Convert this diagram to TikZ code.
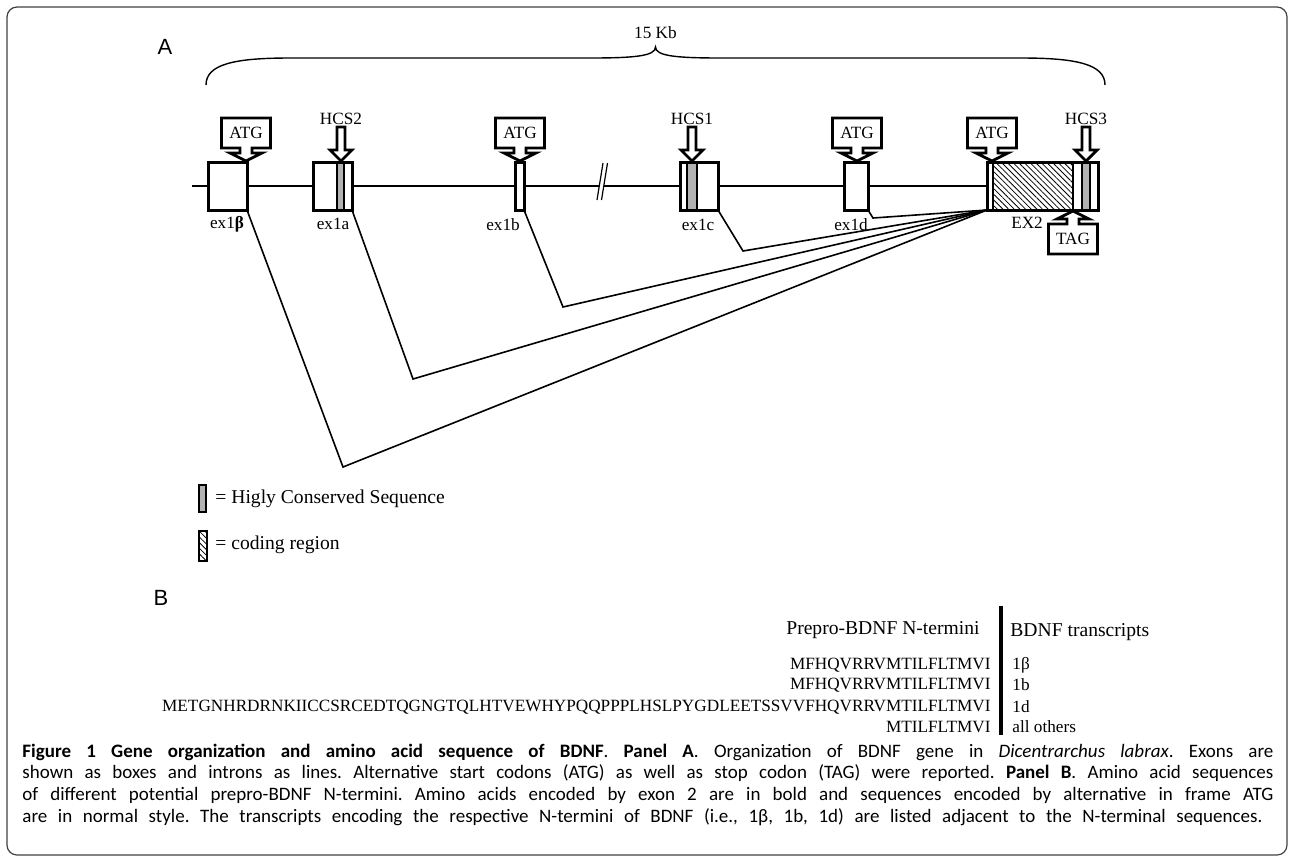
\documentclass[tikz,border=0pt]{standalone}
\usepackage{fontspec}
\setmainfont{Liberation Serif}
\newfontfamily\capfont{Carlito}
\newfontfamily\panelfont{Liberation Sans}
\usetikzlibrary{patterns.meta}
\frenchspacing

\tikzset{
  exon/.style={draw,line width=1.5pt,minimum height=24pt,inner sep=0pt,outer sep=0pt},
  hcs/.style={draw,line width=0.6pt,fill=gray!60},
  coding/.style={draw,line width=0.6pt,pattern={Lines[angle=-45,distance=2pt,line width=0.4pt]}},
  callout/.style={draw,line width=1.4pt,fill=white,line join=miter},
  codon/.style={font=\fontsize{8.6}{10}\selectfont,inner sep=0pt},
  exlabel/.style={font=\fontsize{8.6}{10}\selectfont,inner sep=0pt},
  gene/.style={line width=1pt},
  splice/.style={line width=0.8pt},
  seq/.style={font=\fontsize{8.6}{10}\selectfont,inner sep=0pt},
  head/.style={font=\fontsize{9.8}{11}\selectfont,inner sep=0pt},
  legend/.style={font=\fontsize{9.8}{11}\selectfont,inner sep=0pt,anchor=west},
  panel/.style={font=\panelfont\fontsize{11}{13}\selectfont,inner sep=0pt},
  capline/.style={font=\capfont\fontsize{9.5}{11}\selectfont,inner sep=0pt,anchor=west},
  pics/codon/.style={code={
    \draw[callout] (0,0) -- (-16,-8) -- (-6,-8) -- (-6,-13) -- (-24.5,-13) -- (-24.5,-43)
      -- (24.5,-43) -- (24.5,-13) -- (6,-13) -- (6,-8) -- (16,-8) -- cycle;
    \node[codon] (-txt) at (0,-28) {#1};
  }},
  pics/hcsarrow/.style={code={
    \draw[callout] (0,0) -- (-11,-11) -- (-4,-11) -- (-4,-34) -- (4,-34) -- (4,-11) -- (11,-11) -- cycle;
    \node[codon] (-txt) at (0,-42) {#1};
  }}
}

\begin{document}
\begin{tikzpicture}[x=0.5pt,y=-0.5pt]
\useasboundingbox (0,0) rectangle (1290,858);
\draw[line width=0.6pt,black!75,rounded corners=5pt] (7,7) rectangle (1287,855);

% panel A
\node[panel] (lblA) at (165,47) {A};
\draw[line width=0.7pt] (206,85) .. controls (206,64) and (235,58) .. (290,58) -- (590,58)
  .. controls (635,58) and (655.5,56) .. (655.5,47)
  .. controls (655.5,56) and (676,58) .. (721,58) -- (1021,58)
  .. controls (1076,58) and (1105,64) .. (1105,85);
\node[codon] (kb) at (655.5,33) {15 Kb};

% stripes inside the exons
\draw[hcs] (337,162) rectangle (344,210);
\draw[hcs] (687,162) rectangle (697,210);
\draw[coding] (993,162) rectangle (1073,210);
\draw[hcs] (1082,162) rectangle (1090,210);

% exons
\node[exon,minimum width=19.5pt] (exbeta) at (227.5,186) {};
\node[exon,minimum width=19.5pt] (exa) at (332.5,186) {};
\node[exon,minimum width=4.5pt] (exb) at (519.5,186) {};
\node[exon,minimum width=19pt] (exc) at (699,186) {};
\node[exon,minimum width=12pt] (exd) at (856,186) {};
\node[exon,minimum width=55.5pt] (ex2) at (1042.5,186) {};

% introns
\coordinate (start) at (192,186);
\coordinate (brkL) at (599,186);
\coordinate (brkR) at (604,186);
\draw[gene] (start) -- (exbeta.west) (exbeta.east) -- (exa.west) (exa.east) -- (exb.west);
\draw[gene,line width=0.6pt] (exb.east) -- (brkL);
\draw[line width=0.6pt] (597,200) -- (603,163) (601.5,200) -- (607.5,163);
\draw[gene] (brkR) -- (exc.west) (exc.east) -- (exd.west);
\draw[gene,line width=0.6pt] (exd.east) -- (ex2.west);

\node[exlabel] (lbeta) at (227,224) {ex1\textbf{β}};
\node[exlabel] (la) at (333,224) {ex1a};
\node[exlabel] (lb) at (503,225) {ex1b};
\node[exlabel] (lc) at (698,225) {ex1c};
\node[exlabel] (ld) at (851,225) {ex1d};
\node[exlabel] (l2) at (1027,223) {EX2};

% start / stop codons and conserved sequences
\foreach \tx [count=\i] in {246,520,857,992}
  \pic (atg\i) at (\tx,161) {codon=ATG};
\pic[yscale=-1] (tag) at (1073,211) {codon=TAG};
\pic (hcs2) at (341,161) {hcsarrow=HCS2};
\pic (hcs1) at (692,161) {hcsarrow=HCS1};
\pic (hcs3) at (1086,161) {hcsarrow=HCS3};

% splicing
\coordinate (vbeta) at (343,467);
\coordinate (va) at (413,379);
\coordinate (vb) at (563,307);
\coordinate (vc) at (743,251);
\coordinate (vd) at (873,218);
\foreach \ex/\vx in {exbeta/vbeta,exa/va,exb/vb,exc/vc,exd/vd}
  \draw[splice] (\ex.south east) -- (\vx) -- (ex2.south west);

% legend
\draw[hcs] (199,485) rectangle (206,512);
\node[legend] (hcskey) at (215,499) {= Higly Conserved Sequence};
\draw[coding] (199,531) rectangle (207,561);
\node[legend] (codkey) at (215,545) {= coding region};

% panel B
\node[panel] (lblB) at (161,598) {B};
\draw[line width=2pt] (1001,606) -- (1001,735);
\node[head,anchor=east] (nterm) at (980,630) {Prepro-BDNF N-termini};
\node[head,anchor=west] (trans) at (1010,632) {BDNF transcripts};
\foreach \sq/\tr/\y [count=\i] in {MFHQVRRVMTILFLTMVI/1β/665,
    MFHQVRRVMTILFLTMVI/1b/685,
    METGNHRDRNKIICCSRCEDTQGNGTQLHTVEWHYPQQPPPLHSLPYGDLEETSSVVFHQVRRVMTILFLTMVI/1d/707,
    MTILFLTMVI/all others/727}{
  \node[seq,anchor=east] (seq\i) at (991,\y) {\sq};
  \node[seq,anchor=west] (tr\i) at (1012,\y) {\tr};
}

% caption
\node[capline] (cap1) at (22,752) {\makebox[625.5pt][s]{\textbf{Figure 1 Gene organization and amino acid sequence of BDNF}. \textbf{Panel A}. Organization of BDNF gene in \textit{Dicentrarchus labrax}. Exons are}};
\node[capline] (cap2) at (22,773) {\makebox[625.5pt][s]{shown as boxes and introns as lines. Alternative start codons (ATG) as well as stop codon (TAG) were reported. \textbf{Panel B}. Amino acid sequences}};
\node[capline] (cap3) at (22,795) {\makebox[625.5pt][s]{of different potential prepro-BDNF N-termini. Amino acids encoded by exon 2 are in bold and sequences encoded by alternative in frame ATG}};
\node[capline] (cap4) at (22,817) {\makebox[620pt][s]{are in normal style. The transcripts encoding the respective N-termini of BDNF (i.e., 1β, 1b, 1d) are listed adjacent to the N-terminal sequences.}};
\end{tikzpicture}
\end{document}
